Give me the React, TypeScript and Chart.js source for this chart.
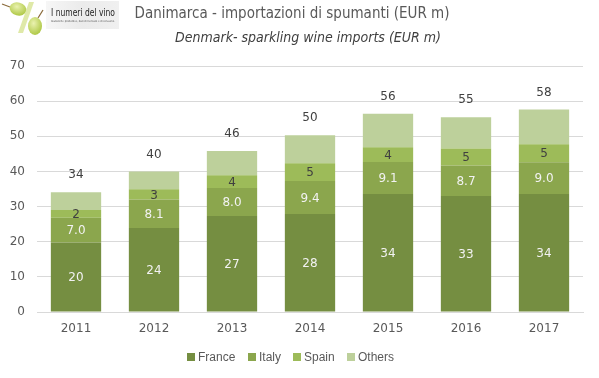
import React, { useEffect, useRef } from "react";
import { Chart, registerables } from "chart.js";

Chart.register(...registerables);

const years = ["2011", "2012", "2013", "2014", "2015", "2016", "2017"];
const france = [19.8, 23.9, 27.3, 27.9, 33.6, 33.0, 33.6];
const italy = [7.0, 8.1, 8.0, 9.4, 9.1, 8.7, 9.0];
const spain = [2.2, 2.9, 3.6, 5.0, 4.2, 4.8, 5.1];
const others = [5.1, 5.1, 6.9, 8.0, 9.5, 8.9, 9.9];
const seriesNames = ["France", "Italy", "Spain", "Others"];
const labelDecimals = [0, 1, 0, -1];

const titleText = "Danimarca - importazioni di spumanti (EUR m)";
const subtitleText = "Denmark- sparkling wine imports (EUR m)";

const COLORS = ["#758e41", "#8ba64d", "#9dbb59", "#bdd09b"];
const LABEL_COLORS = ["#f2f2f2", "#f2f2f2", "#404040", ""];
const FONT = '"DejaVu Sans", sans-serif';
const FONT_COND = '"DejaVu Sans Condensed", "DejaVu Sans", sans-serif';
const LEGEND_FONT = '"Liberation Sans", Arial, sans-serif';

const labelsPlugin = {
  id: "customLabels",
  afterDatasetsDraw(chart: any) {
    const ctx = chart.ctx;
    ctx.save();
    ctx.font = `12px ${FONT}`;
    ctx.textAlign = "center";
    ctx.textBaseline = "middle";
    for (let d = 0; d < 3; d++) {
      const meta = chart.getDatasetMeta(d);
      const data = chart.data.datasets[d].data as number[];
      meta.data.forEach((el: any, i: number) => {
        const { x, y, base } = el.getProps(["x", "y", "base"], true);
        ctx.fillStyle = LABEL_COLORS[d];
        ctx.fillText(data[i].toFixed(labelDecimals[d]), x, (y + base) / 2 + 1);
      });
    }
    const topMeta = chart.getDatasetMeta(3);
    topMeta.data.forEach((el: any, i: number) => {
      const { x, y } = el.getProps(["x", "y"], true);
      const total = france[i] + italy[i] + spain[i] + others[i];
      ctx.fillStyle = "#404040";
      ctx.fillText(total.toFixed(0), x, y - 17);
    });
    ctx.restore();
  },
  afterDraw(chart: any) {
    const ctx = chart.ctx;
    ctx.save();
    // titles
    ctx.textAlign = "center";
    ctx.textBaseline = "alphabetic";
    ctx.fillStyle = "#595959";
    ctx.font = `15px ${FONT_COND}`;
    ctx.fillText(titleText, 292, 18);
    ctx.fillStyle = "#404040";
    ctx.font = `italic 14px ${FONT_COND}`;
    ctx.fillText(subtitleText, 308, 42);
    // legend
    ctx.font = `12px ${LEGEND_FONT}`;
    const box = 8;
    const gapBoxText = 3;
    const gapItems = 12;
    const widths = seriesNames.map(
      (n) => box + gapBoxText + ctx.measureText(n).width
    );
    const total = widths.reduce((a, b) => a + b, 0) + gapItems * (widths.length - 1);
    let x = 290.5 - total / 2;
    const cy = 357;
    ctx.textAlign = "left";
    ctx.textBaseline = "middle";
    seriesNames.forEach((n, i) => {
      ctx.fillStyle = COLORS[i];
      ctx.fillRect(Math.round(x), cy - 4, box, box);
      ctx.fillStyle = "#595959";
      ctx.fillText(n, Math.round(x) + box + gapBoxText, cy + 0.5);
      x += widths[i] + gapItems;
    });
    ctx.restore();
  },
};

function Logo() {
  return (
    <svg
      width={122}
      height={36}
      style={{ position: "absolute", left: 0, top: 0 }}
      viewBox="0 0 122 36"
    >
      <defs>
        <linearGradient id="bg" x1="0" x2="1" y1="0" y2="0">
          <stop offset="0" stopColor="#f6f6f6" />
          <stop offset="0.5" stopColor="#ebebeb" />
          <stop offset="1" stopColor="#f0f0f0" />
        </linearGradient>
        <radialGradient id="grape" cx="0.4" cy="0.35" r="0.65">
          <stop offset="0" stopColor="#eaf2b0" />
          <stop offset="1" stopColor="#b0c948" />
        </radialGradient>
      </defs>
      <rect x={46} y={1} width={73} height={28} fill="url(#bg)" />
      <line x1={2} y1={4} x2={10} y2={7} stroke="#8a6a3a" strokeWidth={1.2} />
      <ellipse cx={18} cy={9} rx={8.5} ry={6.5} fill="url(#grape)" transform="rotate(15 18 9)" />
      <polygon points="18,33 23,33 34,2 29,2" fill="#dfe9a8" />
      <line x1={38} y1={18} x2={43} y2={10} stroke="#8a6a3a" strokeWidth={1.2} />
      <ellipse cx={35} cy={26} rx={7} ry={9} fill="url(#grape)" />
      <text
        x={51}
        y={16}
        fontFamily='"DejaVu Sans Condensed", "DejaVu Sans", sans-serif'
        fontSize={10}
        fill="#222"
        textLength={64}
        lengthAdjust="spacingAndGlyphs"
      >
        I numeri del vino
      </text>
      <text
        x={51}
        y={22}
        fontFamily="DejaVu Sans"
        fontSize={2.6}
        fill="#555"
        textLength={64}
        lengthAdjust="spacingAndGlyphs"
      >
        Statistiche produttive, dati di mercato e di consumo.
      </text>
    </svg>
  );
}

export default function App() {
  const ref = useRef<HTMLCanvasElement | null>(null);

  useEffect(() => {
    document.body.style.margin = "0";
    if (!ref.current) return;
    const datasets = [france, italy, spain, others].map((arr, i) => ({
      label: seriesNames[i],
      data: arr,
      backgroundColor: COLORS[i],
      borderWidth: 0,
      barPercentage: 0.645,
      categoryPercentage: 1.0,
    }));
    const chart = new Chart(ref.current, {
      type: "bar",
      data: { labels: years, datasets },
      plugins: [labelsPlugin],
      options: {
        animation: false,
        responsive: false,
        maintainAspectRatio: false,
        layout: { padding: { top: 66, right: 16, left: 8, bottom: 0 } },
        plugins: {
          title: { display: false },
          tooltip: { enabled: false },
          legend: { display: false },
        },
        scales: {
          x: {
            stacked: true,
            grid: { display: false, drawTicks: false },
            border: { display: true, color: "#d9d9d9" },
            ticks: {
              font: { family: FONT, size: 12 },
              color: "#595959",
              padding: 10,
            },
            afterFit: (scale: any) => {
              scale.height = 66;
            },
          },
          y: {
            stacked: true,
            min: 0,
            max: 70,
            ticks: {
              stepSize: 10,
              font: { family: FONT, size: 12 },
              color: "#595959",
              padding: 12,
            },
            grid: { color: "#d9d9d9", drawTicks: false },
            border: { display: false },
            afterFit: (scale: any) => {
              scale.width = 29;
            },
          },
        },
      },
    });
    return () => chart.destroy();
  }, []);

  return (
    <div style={{ position: "relative", width: 599, height: 378 }}>
      <canvas ref={ref} width={599} height={378} />
      <Logo />
    </div>
  );
}
